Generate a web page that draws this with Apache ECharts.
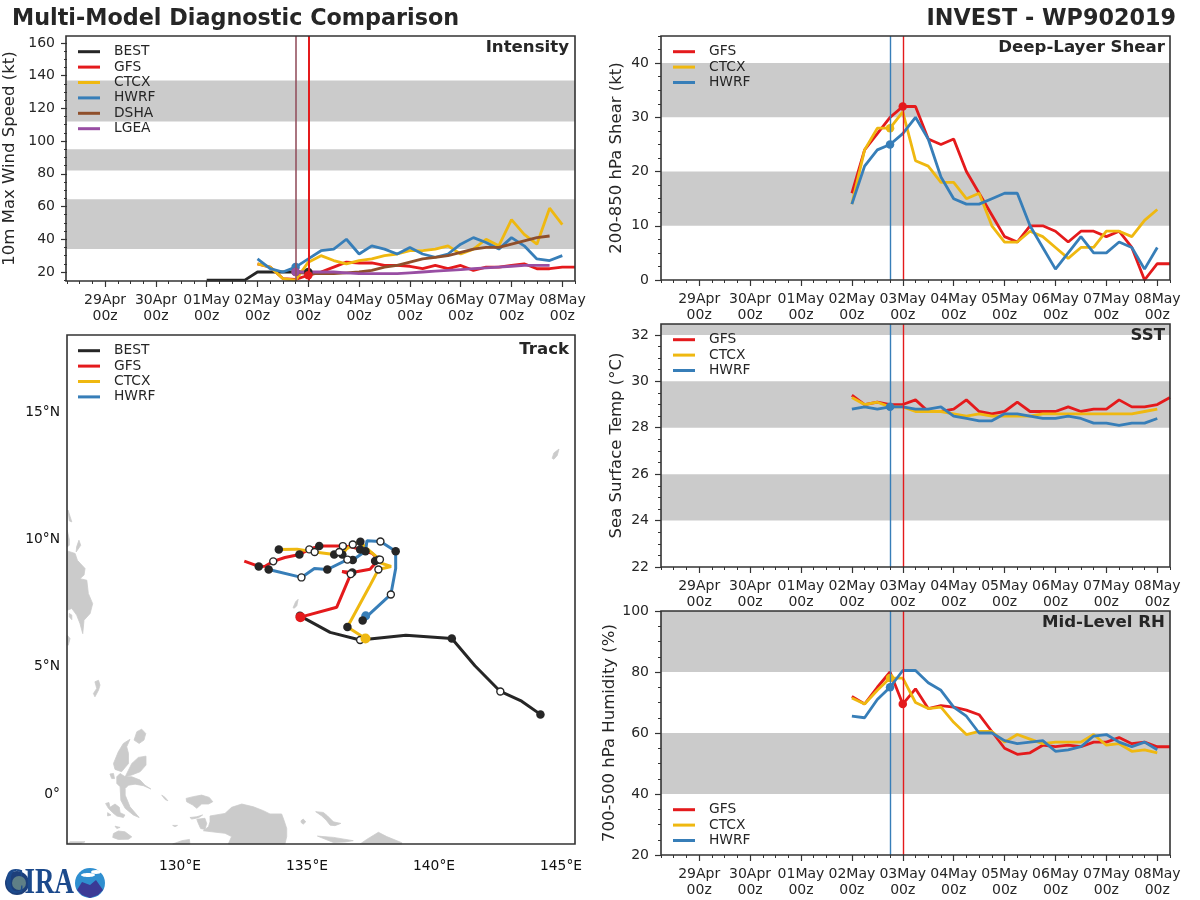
<!DOCTYPE html>
<html>
<head>
<meta charset="utf-8">
<style>html,body{margin:0;padding:0;background:#fff}#main{width:1200px;height:900px}</style>
<script src="https://cdn.jsdelivr.net/npm/echarts@6/dist/echarts.min.js"></script>
</head>
<body>
<div id="main"></div>
<script>
// hours counted from 28Apr 00z
var dayHours = [24, 48, 72, 96, 120, 144, 168, 192, 216, 240];
var dayLabels = ['29Apr\n00z', '30Apr\n00z', '01May\n00z', '02May\n00z', '03May\n00z', '04May\n00z', '05May\n00z', '06May\n00z', '07May\n00z', '08May\n00z'];
var bestHours = [72, 78, 84, 90, 96, 102, 108, 114, 120];
var modelHours = [96, 102, 108, 114, 120, 126, 132, 138, 144, 150, 156, 162, 168, 174, 180, 186, 192, 198, 204, 210, 216, 222, 228, 234, 240, 246];
var guidanceHours = [114, 120, 126, 132, 138, 144, 150, 156, 162, 168, 174, 180, 186, 192, 198, 204, 210, 216, 222, 228, 234];

// intensity
var windBest = [15, 15, 15, 15, 20, 20, 20, 20, 20];
var windGfs = [25, 23, 16, 15.5, 18, 20, 23, 26, 25.5, 25.5, 24, 24, 23.5, 22, 24, 22, 24, 21, 23, 23, 24, 25, 22, 22, 23, 23];
var windCtcx = [25, 23, 16, 15, 26, 30, 27, 25, 27, 28, 30, 31, 33, 33, 34, 36, 31, 34, 40, 36, 52, 43, 37, 59, 49];
var windHwrf = [28, 22, 20, 23, 28, 33, 34, 40, 31, 36, 34, 31, 35, 31, 29, 31, 37, 41, 38, 34, 41, 36, 28, 27, 30];
var windDsha = [20, 19, 19, 19, 19.5, 20, 21, 23, 24, 26, 28, 29, 30, 32, 34, 35, 35, 37, 39, 41, 42];
var windLgea = [20, 20, 20, 20, 19.5, 19, 19, 19, 19, 19.5, 20, 20.5, 21, 21.5, 22, 22.5, 23, 23.5, 24, 24, 24];
var windBands = [[34, 64.5], [82, 95], [112, 137]];
var windTicks = [20, 40, 60, 80, 100, 120, 140, 160];

// shear
var shearGfs = [16, 24, 27, 30, 32, 32, 26, 25, 26, 20, 16, 12, 8, 7, 10, 10, 9, 7, 9, 9, 8, 9, 6, 0, 3, 3];
var shearCtcx = [14, 24, 28, 28, 31, 22, 21, 18, 18, 15, 16, 10, 7, 7, 9, 8, 6, 4, 6, 6, 9, 9, 8, 11, 13];
var shearHwrf = [14, 21, 24, 25, 27, 30, 26, 19, 15, 14, 14, 15, 16, 16, 10, 6, 2, 5, 8, 5, 5, 7, 6, 2, 6];
var shearBands = [[10, 20], [30, 40]];
var shearTicks = [0, 10, 20, 30, 40];

// sst
var sstGfs = [29.4, 29, 29.1, 29, 29, 29.2, 28.7, 28.7, 28.8, 29.2, 28.7, 28.6, 28.7, 29.1, 28.7, 28.7, 28.7, 28.9, 28.7, 28.8, 28.8, 29.2, 28.9, 28.9, 29, 29.3];
var sstCtcx = [29.3, 29, 29.1, 28.9, 28.9, 28.7, 28.7, 28.7, 28.6, 28.5, 28.6, 28.5, 28.5, 28.5, 28.5, 28.6, 28.6, 28.6, 28.6, 28.6, 28.6, 28.6, 28.6, 28.7, 28.8];
var sstHwrf = [28.8, 28.9, 28.8, 28.9, 28.9, 28.8, 28.8, 28.9, 28.5, 28.4, 28.3, 28.3, 28.6, 28.6, 28.5, 28.4, 28.4, 28.5, 28.4, 28.2, 28.2, 28.1, 28.2, 28.2, 28.4];
var sstBands = [[24, 26], [28, 30], [32, 32.47]];
var sstTicks = [22, 24, 26, 28, 30, 32];

// mid-level rh
var rhGfs = [72, 69.5, 75, 80, 69.5, 74.5, 68, 69, 68.5, 67.5, 66, 60.5, 55, 53, 53.5, 56, 55.5, 56, 55.5, 57, 57, 58.5, 56.5, 57, 55.5, 55.5];
var rhCtcx = [71.5, 69.5, 74, 78, 78, 70, 68, 68.5, 63.5, 59.5, 60.5, 60.5, 57, 59.5, 58, 56.5, 57, 57, 57, 59.5, 56, 56.5, 54, 54.5, 53.5];
var rhHwrf = [65.5, 65, 71, 75, 80.5, 80.5, 76.5, 74, 68.5, 65.5, 60, 60, 57.5, 56.5, 57, 57.5, 54, 54.5, 55.5, 59, 59.5, 57, 55.5, 57, 54.5];
var rhBands = [[40, 60], [80, 100]];
var rhTicks = [20, 40, 60, 80, 100];

// tracks: F = filled dot, O = open dot, B = large dot at the start
var bestLon = [144.19, 143.45, 142.61, 141.61, 140.70, 138.89, 137.09, 135.91, 134.72];
var bestLat = [3.13, 3.65, 4.03, 5.04, 6.11, 6.24, 6.05, 6.35, 7.00];
var bestDots = ['F', '', 'O', '', 'F', '', 'O', '', 'F'];
var gfsLon = [134.74, 136.17, 136.72, 136.38, 136.78, 137.48, 137.82, 137.56, 137.09, 136.77, 136.41, 135.91, 135.48, 135.28, 135.09, 134.88, 134.70, 134.13, 133.67, 133.35, 133.10, 132.53];
var gfsLat = [6.95, 7.34, 8.64, 8.74, 8.70, 8.83, 9.21, 9.46, 9.61, 9.70, 9.74, 9.74, 9.74, 9.68, 9.61, 9.50, 9.41, 9.29, 9.14, 8.95, 8.94, 9.15];
var gfsDots = ['B', '', 'O', '', 'F', '', 'O', '', 'F', '', 'O', '', 'F', '', 'O', '', 'F', '', 'O', '', 'F', ''];
var ctcxLon = [137.30, 136.59, 137.44, 137.81, 138.31, 137.68, 137.87, 137.35, 137.10, 136.80, 136.54, 136.39, 136.27, 136.07, 135.30, 134.61, 133.89];
var ctcxLat = [6.11, 6.56, 8.12, 8.82, 8.94, 9.15, 9.21, 9.65, 9.91, 9.80, 9.61, 9.41, 9.51, 9.41, 9.51, 9.62, 9.61];
var ctcxDots = ['B', 'F', '', 'O', '', 'F', 'O', '', 'F', 'O', '', 'F', 'O', 'F', 'O', '', 'F'];
var hwrfLon = [137.31, 137.19, 138.30, 138.49, 138.49, 137.89, 137.36, 137.30, 136.80, 136.59, 135.80, 135.29, 134.78, 133.49];
var hwrfLat = [7.00, 6.82, 7.84, 8.86, 9.54, 9.92, 9.95, 9.54, 9.19, 9.21, 8.82, 8.86, 8.51, 8.82];
var hwrfDots = ['B', 'F', 'O', '', 'F', 'O', '', 'F', 'F', 'O', 'F', '', 'O', 'F'];
var mapLonTicks = [130, 135, 140, 145];
var mapLonLabels = ['130°E', '135°E', '140°E', '145°E'];
var mapLatTicks = [0, 5, 10, 15];
var mapLatLabels = ['0°', '5°N', '10°N', '15°N'];

// land outlines [lon, lat]
var morotai = [[128.19, 2.12], [128.30, 2.45], [128.49, 2.55], [128.65, 2.38], [128.58, 2.12], [128.39, 1.99]];
var halmaheraNorth = [[128.03, 2.15], [127.77, 1.99], [127.57, 1.66], [127.38, 1.20], [127.44, 0.97], [127.70, 0.88], [127.97, 1.20], [127.97, 1.60], [127.90, 1.86]];
var halmaheraEast = [[128.66, 1.49], [128.36, 1.44], [128.10, 1.20], [127.97, 0.94], [127.84, 0.68], [128.10, 0.75], [128.43, 0.88], [128.66, 1.14]];
var halmaheraSouth = [[127.51, 0.68], [127.64, 0.81], [127.84, 0.68], [128.10, 0.68], [128.43, 0.55], [128.62, 0.35], [128.85, 0.20], [128.56, 0.33], [128.23, 0.39], [127.97, 0.35], [127.84, 0.22], [127.84, -0.04], [128.03, -0.50], [128.39, -0.92], [128.16, -0.82], [127.84, -0.56], [127.67, -0.24], [127.64, 0.29], [127.51, 0.42]];
var ternate = [[127.24, 0.79], [127.38, 0.81], [127.42, 0.61], [127.31, 0.61]];
var bacan = [[127.07, -0.37], [127.20, -0.33], [127.24, -0.52], [127.44, -0.39], [127.61, -0.52], [127.64, -0.73], [127.83, -0.82], [127.77, -0.92], [127.51, -0.86], [127.35, -0.73], [127.18, -0.56]];
var bacanSmall = [[127.15, -0.73], [127.28, -0.82], [127.15, -0.86]];
var obi = [[127.38, -1.55], [127.57, -1.45], [127.83, -1.48], [128.10, -1.68], [127.97, -1.77], [127.57, -1.78], [127.35, -1.70]];
var obiSmall = [[127.44, -1.26], [127.64, -1.31], [127.51, -1.35]];
var sula = [[125.56, -1.96], [125.67, -1.87], [126.26, -1.87], [126.06, -1.96]];
var misool = [[129.71, -1.96], [130.07, -1.83], [130.37, -1.78], [130.39, -1.96]];
var kofiau = [[129.71, -1.23], [129.90, -1.23], [129.80, -1.28]];
var gebe = [[129.28, -0.04], [129.41, -0.13], [129.52, -0.26], [129.41, -0.21]];
var waigeo = [[130.24, -0.17], [130.52, -0.10], [130.85, -0.04], [131.15, -0.13], [131.29, -0.30], [131.12, -0.39], [130.85, -0.39], [130.66, -0.56], [130.50, -0.43], [130.26, -0.30]];
var batanta = [[130.39, -0.92], [130.66, -0.89], [130.89, -0.82], [130.72, -0.93], [130.46, -0.98]];
var salawati = [[130.66, -0.99], [130.98, -0.95], [131.05, -1.15], [130.98, -1.39], [130.81, -1.35], [130.72, -1.15]];
var birdsHead = [[131.18, -0.86], [131.77, -0.76], [132.03, -0.52], [132.43, -0.39], [132.89, -0.50], [133.28, -0.65], [133.54, -0.78], [134.00, -0.78], [134.09, -1.02], [134.20, -1.35], [134.20, -1.67], [134.13, -1.96], [131.90, -1.96], [132.03, -1.67], [131.77, -1.54], [131.25, -1.48], [130.92, -1.44], [131.12, -1.28], [131.18, -1.09]];
var numfoor = [[134.76, -1.05], [134.85, -0.98], [134.95, -1.09], [134.85, -1.18], [134.78, -1.13]];
var biak = [[135.34, -0.69], [135.64, -0.72], [135.80, -0.85], [136.04, -1.09], [136.33, -1.15], [136.10, -1.24], [135.91, -1.22], [135.75, -1.02], [135.58, -0.86]];
var yapen = [[135.41, -1.65], [136.04, -1.70], [136.82, -1.83], [136.50, -1.88], [136.04, -1.90]];
var papuaNorth = [[137.09, -1.96], [137.35, -1.78], [137.81, -1.50], [138.14, -1.67], [138.73, -1.91], [138.73, -1.96]];
var mindanao = [[125.56, 9.55], [125.87, 9.45], [125.96, 9.18], [126.26, 8.86], [126.22, 8.60], [126.06, 8.46], [126.33, 8.40], [126.39, 7.88], [126.56, 7.48], [126.46, 7.09], [126.22, 6.83], [126.17, 6.30], [126.06, 6.70], [125.93, 7.03], [125.74, 7.29], [125.56, 7.22]];
var dinagat = [[125.93, 9.71], [126.02, 9.97], [126.09, 9.77], [125.91, 9.51]];
var leyte = [[125.56, 10.36], [125.64, 10.00], [125.64, 9.77], [125.56, 9.71]];
var samar = [[125.59, 11.15], [125.74, 10.69], [125.64, 10.73]];
var samal = [[125.64, 7.09], [125.74, 7.03], [125.74, 6.85], [125.64, 6.96]];
var sarangani = [[125.56, 6.24], [125.67, 6.11], [125.60, 5.85], [125.56, 5.85]];
var talaud = [[126.65, 4.41], [126.79, 4.47], [126.85, 4.28], [126.79, 4.08], [126.65, 3.82], [126.59, 3.95], [126.72, 4.15]];
var guam = [[144.65, 13.19], [144.72, 13.40], [144.92, 13.55], [144.85, 13.30], [144.72, 13.15]];
var palau = [[134.45, 7.32], [134.55, 7.55], [134.65, 7.65], [134.60, 7.40], [134.50, 7.30]];
var landShapes = [morotai, halmaheraNorth, halmaheraEast, halmaheraSouth, ternate, bacan, bacanSmall, obi, obiSmall, sula, misool, kofiau, gebe,
    waigeo, batanta, salawati, birdsHead, numfoor, biak, yapen, papuaNorth, mindanao, dinagat, leyte, samar, samal, sarangani, talaud, guam, palau];

var colors = {BEST: '#262626', GFS: '#e41a1c', CTCX: '#efb810', HWRF: '#377eb8', DSHA: '#8f4f2b', LGEA: '#984ea3'};
var font = 'DejaVu Sans';
var ink = '#262626';

function range(a, b, step) {
    var out = [];
    for (var v = a; v <= b + 1e-9; v += step) out.push(v);
    return out;
}

function pairs(xs, ys) {
    return ys.map(function (y, i) { return [xs[i], y]; });
}

var xAxes = [], yAxes = [], grids = [], series = [], legends = [], titles = [], frames = [];

function addGrid(box) {
    grids.push({left: box[0], top: box[1], width: box[2], height: box[3]});
    frames.push({
        type: 'rect', silent: true, z: 100,
        shape: {x: box[0], y: box[1], width: box[2], height: box[3]},
        style: {fill: null, stroke: '#333', lineWidth: 1.6}
    });
    return grids.length - 1;
}

function addLegend(names, left, top) {
    legends.push({
        data: names, left: left, top: top, orient: 'vertical', selectedMode: false, padding: 0, icon: 'rect',
        itemWidth: 22, itemHeight: 3, itemGap: 0,
        textStyle: {color: ink, fontFamily: font, fontSize: 13.8, lineHeight: 15.4, padding: [0, 0, 0, 9]}
    });
}

function addPanelTitle(text, right, top) {
    titles.push({text: text, right: right, top: top, padding: 0,
        textStyle: {color: ink, fontFamily: font, fontWeight: 'bold', fontSize: 16.6}});
}

// one chart panel with bands, init lines, model lines and init dots
function addPanel(p) {
    var g = addGrid(p.box);
    var xi = xAxes.length, yi = yAxes.length;
    xAxes.push({
        gridIndex: g, type: 'value', min: 6, max: 246, position: 'bottom', splitLine: {show: false},
        axisLine: {show: false, onZero: false},
        axisTick: {customValues: dayHours, length: 6, lineStyle: {color: '#333', width: 1.2}},
        axisLabel: {customValues: dayHours, margin: 11, color: ink, fontFamily: font, fontSize: 14, lineHeight: 16,
            formatter: function (v) { return dayLabels[dayHours.indexOf(v)]; }}
    }, {
        gridIndex: g, type: 'value', min: 6, max: 246, position: 'bottom', splitLine: {show: false},
        axisLine: {show: false, onZero: false}, axisLabel: {show: false},
        axisTick: {customValues: range(6, 246, 6), length: 3, lineStyle: {color: '#333', width: 1}}
    });
    yAxes.push({
        gridIndex: g, type: 'value', min: p.yMin, max: p.yMax, position: 'left', splitLine: {show: false},
        name: p.yName, nameLocation: 'middle', nameGap: p.nameGap,
        nameTextStyle: {color: ink, fontFamily: font, fontSize: 16.5},
        axisLine: {show: false, onZero: false},
        axisTick: {customValues: p.ticks, length: 6, lineStyle: {color: '#333', width: 1.2}},
        axisLabel: {customValues: p.ticks, margin: 12, color: ink, fontFamily: font, fontSize: 14}
    }, {
        gridIndex: g, type: 'value', min: p.yMin, max: p.yMax, position: 'left', splitLine: {show: false},
        axisLine: {show: false, onZero: false}, axisLabel: {show: false},
        axisTick: {customValues: p.minor, length: 3, lineStyle: {color: '#333', width: 1}}
    });
    series.push({
        type: 'line', name: 'bands', data: [], xAxisIndex: xi, yAxisIndex: yi, z: 1,
        markArea: {silent: true, itemStyle: {color: '#cbcbcb'},
            data: p.bands.map(function (b) { return [{yAxis: b[0]}, {yAxis: b[1]}]; })}
    });
    series.push({
        type: 'line', name: 'init', data: [], xAxisIndex: xi, yAxisIndex: yi, z: 2,
        markLine: {silent: true, symbol: 'none', label: {show: false}, animation: false,
            data: p.lines.map(function (l) {
                return {xAxis: l[0], lineStyle: {color: colors[l[1]], width: p.lineWidth, type: 'solid', opacity: l[2]}};
            })}
    });
    p.models.forEach(function (m) {
        series.push({
            type: 'line', name: m.name, data: pairs(m.hours, m.values), xAxisIndex: xi, yAxisIndex: yi, z: 3,
            symbol: 'none', lineStyle: {color: colors[m.name], width: 2.8}, itemStyle: {color: colors[m.name]},
            emphasis: {disabled: true}
        });
    });
    p.models.forEach(function (m) {
        if (m.dot === undefined) return;
        series.push({
            type: 'scatter', name: m.name + ' init', xAxisIndex: xi, yAxisIndex: yi, z: 4, symbolSize: 8.5,
            data: [[m.dot, m.values[m.hours.indexOf(m.dot)]]], itemStyle: {color: colors[m.name], opacity: 1}
        });
    });
    addLegend(p.models.map(function (m) { return m.name; }), p.box[0] + 12, p.legendTop);
}

addPanel({
    box: [66, 36, 509, 245], yMin: 14.5, yMax: 164.2, ticks: windTicks, minor: range(15, 160, 5), bands: windBands,
    yName: '10m Max Wind Speed (kt)', nameGap: 49, lineWidth: 2, legendTop: 44,
    lines: [[114, 'LGEA', 0.6], [114, 'DSHA', 0.45], [120, 'GFS', 1]],
    models: [
        {name: 'BEST', hours: bestHours, values: windBest, dot: 120},
        {name: 'GFS', hours: modelHours, values: windGfs, dot: 120},
        {name: 'CTCX', hours: modelHours, values: windCtcx},
        {name: 'HWRF', hours: modelHours, values: windHwrf, dot: 114},
        {name: 'DSHA', hours: guidanceHours, values: windDsha, dot: 114},
        {name: 'LGEA', hours: guidanceHours, values: windLgea, dot: 114}
    ]
});
addPanel({
    box: [661, 36, 509, 244], yMin: 0, yMax: 45, ticks: shearTicks, minor: range(0, 45, 2.5), bands: shearBands,
    yName: '200-850 hPa Shear (kt)', nameGap: 36, lineWidth: 1.4, legendTop: 44,
    lines: [[114, 'HWRF', 1], [120, 'GFS', 1]],
    models: [
        {name: 'GFS', hours: modelHours, values: shearGfs, dot: 120},
        {name: 'CTCX', hours: modelHours, values: shearCtcx, dot: 114},
        {name: 'HWRF', hours: modelHours, values: shearHwrf, dot: 114}
    ]
});
addPanel({
    box: [661, 324, 509, 243], yMin: 22, yMax: 32.47, ticks: sstTicks, minor: range(22, 32, 0.5), bands: sstBands,
    yName: 'Sea Surface Temp (°C)', nameGap: 36, lineWidth: 1.4, legendTop: 332,
    lines: [[114, 'HWRF', 1], [120, 'GFS', 1]],
    models: [
        {name: 'GFS', hours: modelHours, values: sstGfs},
        {name: 'CTCX', hours: modelHours, values: sstCtcx},
        {name: 'HWRF', hours: modelHours, values: sstHwrf, dot: 114}
    ]
});
addPanel({
    box: [661, 611, 509, 244], yMin: 20, yMax: 100, ticks: rhTicks, minor: range(20, 100, 5), bands: rhBands,
    yName: '700-500 hPa Humidity (%)', nameGap: 36, lineWidth: 1.4, legendTop: 802,
    lines: [[114, 'HWRF', 1], [120, 'GFS', 1]],
    models: [
        {name: 'GFS', hours: modelHours, values: rhGfs, dot: 120},
        {name: 'CTCX', hours: modelHours, values: rhCtcx, dot: 114},
        {name: 'HWRF', hours: modelHours, values: rhHwrf, dot: 114}
    ]
});

// track map
var mapGrid = addGrid([67, 335, 508, 509]);
var mapX = xAxes.length, mapY = yAxes.length;
xAxes.push({
    gridIndex: mapGrid, type: 'value', min: 125.55, max: 145.55, splitLine: {show: false},
    axisLine: {show: false, onZero: false}, axisTick: {show: false},
    axisLabel: {customValues: mapLonTicks, margin: 15, color: '#111', fontFamily: font, fontSize: 13.8,
        formatter: function (v) { return mapLonLabels[mapLonTicks.indexOf(v)]; }}
});
yAxes.push({
    gridIndex: mapGrid, type: 'value', min: -1.96, max: 18.03, splitLine: {show: false},
    axisLine: {show: false, onZero: false}, axisTick: {show: false},
    axisLabel: {customValues: mapLatTicks, margin: 7, color: '#111', fontFamily: font, fontSize: 13.8,
        formatter: function (v) { return mapLatLabels[mapLatTicks.indexOf(v)]; }}
});
series.push({
    type: 'custom', name: 'land', xAxisIndex: mapX, yAxisIndex: mapY, z: 1, silent: true,
    data: landShapes.map(function (s) { return s[0]; }),
    renderItem: function (params, api) {
        var points = landShapes[params.dataIndex].map(function (c) { return api.coord(c); });
        return {type: 'polygon', shape: {points: points}, style: {fill: '#cbcbcb', stroke: '#cbcbcb', lineWidth: 0.8}};
    }
});

var tracks = [
    {name: 'BEST', lon: bestLon, lat: bestLat, dots: bestDots},
    {name: 'GFS', lon: gfsLon, lat: gfsLat, dots: gfsDots},
    {name: 'CTCX', lon: ctcxLon, lat: ctcxLat, dots: ctcxDots},
    {name: 'HWRF', lon: hwrfLon, lat: hwrfLat, dots: hwrfDots}
];

function dotsOf(t, kind) {
    return pairs(t.lon, t.lat).filter(function (c, i) { return t.dots[i] === kind; });
}

tracks.forEach(function (t) {
    series.push({
        type: 'line', name: t.name, data: pairs(t.lon, t.lat), xAxisIndex: mapX, yAxisIndex: mapY, z: 3,
        symbol: 'none', lineStyle: {color: colors[t.name], width: 3}, itemStyle: {color: colors[t.name]},
        emphasis: {disabled: true}
    });
    series.push({
        type: 'scatter', name: t.name + ' start', data: dotsOf(t, 'B'), xAxisIndex: mapX, yAxisIndex: mapY,
        z: t.name === 'HWRF' ? 4 : 6, symbolSize: t.name === 'HWRF' ? 9 : 10, itemStyle: {color: colors[t.name], opacity: 1}
    });
    series.push({
        type: 'scatter', name: t.name + ' 00z', data: dotsOf(t, 'F'), xAxisIndex: mapX, yAxisIndex: mapY,
        z: 5, symbolSize: 8.5, itemStyle: {color: '#262626', opacity: 1}
    });
    series.push({
        type: 'scatter', name: t.name + ' 12z', data: dotsOf(t, 'O'), xAxisIndex: mapX, yAxisIndex: mapY,
        z: 5, symbolSize: 7, itemStyle: {color: '#fff', borderColor: '#262626', borderWidth: 1.4, opacity: 1}
    });
});
addLegend(['BEST', 'GFS', 'CTCX', 'HWRF'], 78, 343);

titles.push({text: 'Multi-Model Diagnostic Comparison', left: 12, top: 8, padding: 0,
    textStyle: {color: ink, fontFamily: font, fontWeight: 'bold', fontSize: 22.3}});
titles.push({text: 'INVEST - WP902019', right: 24, top: 8, padding: 0,
    textStyle: {color: ink, fontFamily: font, fontWeight: 'bold', fontSize: 22.3}});
addPanelTitle('Intensity', 631, 39);
addPanelTitle('Track', 631, 341);
addPanelTitle('Deep-Layer Shear', 35, 39);
addPanelTitle('SST', 35, 327);
addPanelTitle('Mid-Level RH', 35, 614);

// CIRA logo, bottom left
var logo = [
    {type: 'circle', silent: true, shape: {cx: 17, cy: 883, r: 12}, style: {fill: '#1d3f7a'}},
    {type: 'circle', silent: true, shape: {cx: 19, cy: 883, r: 7}, style: {fill: '#5f7f86'}},
    {type: 'text', silent: true, x: 5, y: 866, scaleX: 0.75, style: {text: 'CIRA', fill: '#1c4a8c', fontFamily: 'Liberation Serif', fontWeight: 'bold', fontSize: 36}},
    {type: 'circle', silent: true, shape: {cx: 90, cy: 883, r: 15}, style: {fill: '#2f8fd0'}},
    {type: 'ellipse', silent: true, shape: {cx: 88, cy: 875, rx: 7, ry: 2}, style: {fill: '#fff'}},
    {type: 'ellipse', silent: true, shape: {cx: 96, cy: 872, rx: 5, ry: 2}, style: {fill: '#fff'}},
    {type: 'polygon', silent: true, shape: {points: [[77, 890], [82, 882], [90, 885], [96, 880], [103, 890], [98, 895], [90, 898], [82, 895]]}, style: {fill: '#3a3a96'}}
];

var chart = echarts.init(document.getElementById('main'), null, {renderer: 'canvas'});
chart.setOption({
    animation: false,
    backgroundColor: '#fff',
    title: titles,
    legend: legends,
    grid: grids,
    xAxis: xAxes,
    yAxis: yAxes,
    series: series,
    graphic: {elements: frames.concat(logo)}
});
</script>
</body>
</html>
